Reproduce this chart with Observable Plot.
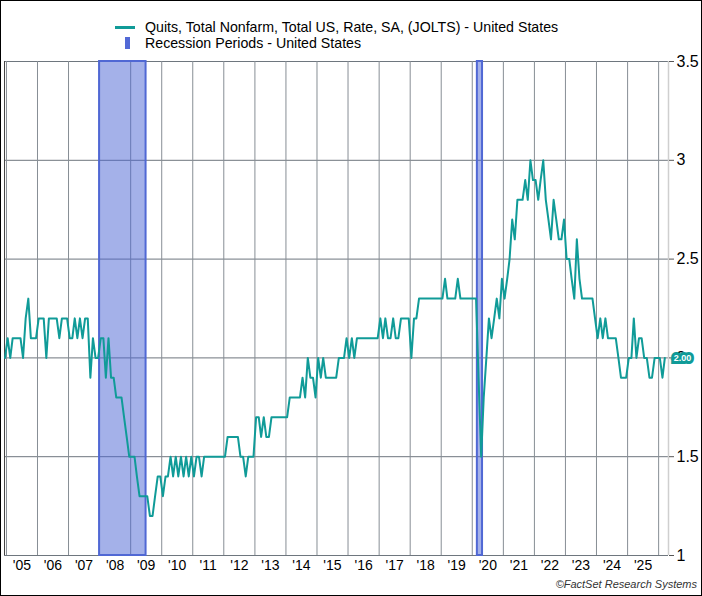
<!DOCTYPE html>
<html>
<head>
<meta charset="utf-8">
<script src="https://cdn.jsdelivr.net/npm/d3@7"></script>
<script src="https://cdn.jsdelivr.net/npm/@observablehq/plot@0.6"></script>
<style>
  html, body { margin: 0; padding: 0; background: #fff; }
  #wrap { position: relative; width: 702px; height: 596px; font-family: "Liberation Sans", Arial, sans-serif; overflow: hidden; }
  #border { position: absolute; left: 0; top: 0; right: 0; bottom: 0; border: 1px solid #000; pointer-events: none; }
  #legend { position: relative; height: 50px; font-size: 14.2px; color: #000; }
  .lg-text { position: absolute; left: 145px; white-space: nowrap; line-height: 16px; }
  #swLine { position: absolute; left: 115px; top: 26px; width: 20px; height: 2.5px; background: #109b98; }
  #swRect { position: absolute; left: 125px; top: 37px; width: 5px; height: 12px; background: #5269d6; }
  #caption { height: 20px; line-height: 14px; text-align: right; padding-right: 5px; font-size: 11px; font-style: italic; color: #333; box-sizing: border-box; padding-top: 1px; }
  #chart svg { display: block; }
</style>
</head>
<body>
<div id="wrap">
  <div id="legend">
    <div id="swLine"></div>
    <div class="lg-text" style="top:19px">Quits, Total Nonfarm, Total US, Rate, SA, (JOLTS) - United States</div>
    <div id="swRect"></div>
    <div class="lg-text" style="top:35px">Recession Periods - United States</div>
  </div>
  <div id="chart"></div>
  <div id="caption">©FactSet Research Systems</div>
  <div id="border"></div>
</div>
<script>
// ---- Data (monthly quits rate, %, starting Dec 2004) ----
const firstYear = 2004, firstMonth = 11; // December 2004 (0-based month)
const quitsRate = [
  2.0,                                                            // 2004 Dec
  2.1, 2.0, 2.1, 2.1, 2.1, 2.1, 2.0, 2.2, 2.3, 2.1, 2.1, 2.1,     // 2005
  2.2, 2.2, 2.2, 2.0, 2.2, 2.2, 2.2, 2.2, 2.1, 2.2, 2.2, 2.2,     // 2006
  2.1, 2.1, 2.2, 2.1, 2.2, 2.1, 2.2, 2.2, 1.9, 2.1, 2.0, 2.0,     // 2007
  2.1, 2.1, 1.9, 2.1, 1.9, 1.9, 1.8, 1.8, 1.8, 1.7, 1.6, 1.5,     // 2008
  1.5, 1.5, 1.4, 1.3, 1.3, 1.3, 1.3, 1.2, 1.2, 1.3, 1.4, 1.4,     // 2009
  1.3, 1.4, 1.4, 1.5, 1.4, 1.5, 1.4, 1.5, 1.4, 1.5, 1.4, 1.5,     // 2010
  1.4, 1.5, 1.5, 1.4, 1.5, 1.5, 1.5, 1.5, 1.5, 1.5, 1.5, 1.5,     // 2011
  1.5, 1.6, 1.6, 1.6, 1.6, 1.6, 1.5, 1.5, 1.4, 1.5, 1.5, 1.5,     // 2012
  1.7, 1.7, 1.6, 1.7, 1.6, 1.6, 1.7, 1.7, 1.7, 1.7, 1.7, 1.7,     // 2013
  1.7, 1.8, 1.8, 1.8, 1.8, 1.8, 1.9, 1.8, 2.0, 1.9, 1.9, 1.8,     // 2014
  2.0, 1.9, 2.0, 1.9, 1.9, 1.9, 1.9, 1.9, 2.0, 2.0, 2.0, 2.1,     // 2015
  2.0, 2.1, 2.0, 2.1, 2.1, 2.1, 2.1, 2.1, 2.1, 2.1, 2.1, 2.1,     // 2016
  2.2, 2.1, 2.2, 2.1, 2.1, 2.2, 2.1, 2.1, 2.2, 2.2, 2.2, 2.2,     // 2017
  2.0, 2.2, 2.2, 2.3, 2.3, 2.3, 2.3, 2.3, 2.3, 2.3, 2.3, 2.3,     // 2018
  2.3, 2.4, 2.3, 2.3, 2.3, 2.3, 2.4, 2.3, 2.3, 2.3, 2.3, 2.3,     // 2019
  2.3, 2.3, 1.9, 1.5, 1.8, 2.0, 2.2, 2.1, 2.2, 2.3, 2.2, 2.4,     // 2020
  2.3, 2.4, 2.5, 2.7, 2.6, 2.8, 2.8, 2.8, 2.9, 2.8, 3.0, 2.9,     // 2021
  2.9, 2.8, 2.9, 3.0, 2.8, 2.7, 2.6, 2.8, 2.7, 2.6, 2.6, 2.7,     // 2022
  2.5, 2.5, 2.4, 2.3, 2.6, 2.4, 2.3, 2.3, 2.3, 2.3, 2.3, 2.2,     // 2023
  2.1, 2.2, 2.1, 2.2, 2.1, 2.1, 2.1, 2.1, 2.0, 1.9, 1.9, 1.9,     // 2024
  2.0, 2.0, 2.2, 2.0, 2.1, 2.1, 2.0, 2.0, 1.9, 1.9, 2.0, 2.0,     // 2025
  2.0, 1.9, 2.0                                                   // 2026
];
const lastLabel = "2.00";

const recessionStart = ["2008-01-01", "2020-03-01"];
const recessionEnd   = ["2009-07-01", "2020-05-01"];

const yearLabels = [2005, 2006, 2007, 2008, 2009, 2010, 2011, 2012, 2013, 2014, 2015,
                    2016, 2017, 2018, 2019, 2020, 2021, 2022, 2023, 2024, 2025];
const gridYears = [...yearLabels, 2026];
const yTicks = [1, 1.5, 2, 2.5, 3, 3.5];

// ---- Build tables ----
const teal = "#109b98";
const data = quitsRate.map((v, i) => ({
  date: new Date(Date.UTC(firstYear, firstMonth + i, 15)),
  value: v
}));
const recessions = recessionStart.map((s, i) => ({ start: new Date(s), end: new Date(recessionEnd[i]) }));
const yearStarts = gridYears.map(y => new Date(Date.UTC(y, 0, 1)));
const labelDates = yearLabels.map(y => new Date(Date.UTC(y, 6, 2)));
const xStart = new Date(Date.UTC(2004, 11, 9));
const xEnd = new Date(Date.UTC(2026, 3, 27));
const last = data[data.length - 1];

const chart = Plot.plot({
  width: 702,
  height: 526,
  marginTop: 11,
  marginBottom: 21,
  marginLeft: 4,
  marginRight: 34,
  style: { fontFamily: "Liberation Sans, Arial, sans-serif", color: "#000", overflow: "visible", background: "transparent" },
  x: { type: "utc", domain: [xStart, xEnd] },
  y: { domain: [1, 3.5] },
  marks: [
    Plot.ruleY(yTicks, { stroke: "#6e767e", strokeWidth: 1 }),
    Plot.ruleX(yearStarts, { stroke: "#878e95", strokeWidth: 1 }),
    Plot.ruleX([xStart], { stroke: "#444", strokeWidth: 1 }),
    Plot.ruleX([xEnd], { stroke: "#cfcfcf", strokeWidth: 1.5 }),
    Plot.rect(recessions, { x1: "start", x2: "end", fill: "#4a63d3", fillOpacity: 0.5, stroke: "#5068d4", strokeWidth: 2 }),
    Plot.line(data, { x: "date", y: "value", stroke: teal, strokeWidth: 2 }),
    Plot.axisY({ anchor: "right", ticks: yTicks, tickSize: 5, tickPadding: 3, fontSize: 16, label: null, tickFormat: d => String(d), stroke: "#555" }),
    Plot.axisX({ ticks: labelDates, tickSize: 0, tickPadding: 5, fontSize: 14, label: null, tickFormat: d => "'" + String(d.getUTCFullYear()).slice(2) }),
    Plot.text([last], { y: "value", frameAnchor: "right", dx: 14, text: () => lastLabel, fill: "white", stroke: teal, strokeWidth: 6, strokeLinejoin: "miter", fontSize: 9, fontWeight: "bold", textAnchor: "middle" })
  ]
});
document.getElementById("chart").appendChild(chart);
</script>
</body>
</html>
